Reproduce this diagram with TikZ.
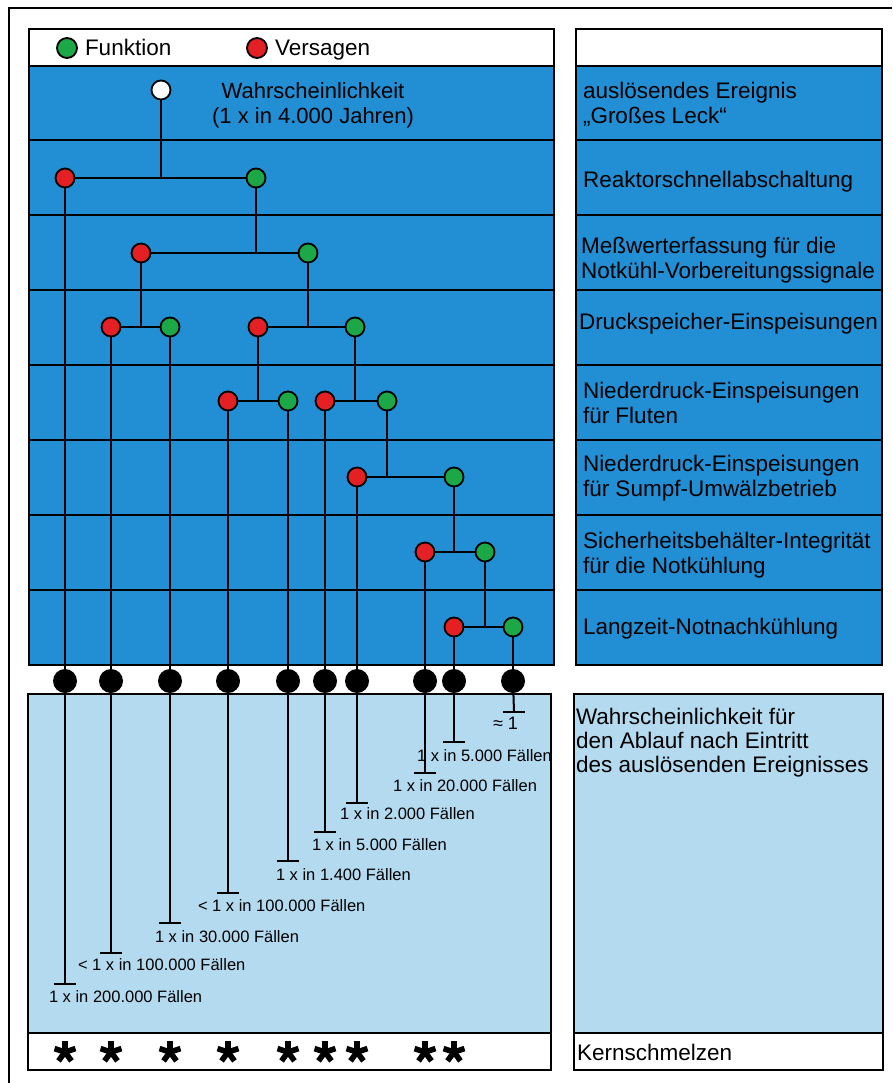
\documentclass[tikz,border=0pt]{standalone}
\usepackage{fontspec}
\setmainfont{Liberation Sans}
\definecolor{darkblue}{RGB}{34,142,212}
\definecolor{lightblue}{RGB}{180,218,240}
\definecolor{failred}{RGB}{228,32,36}
\definecolor{okgreen}{RGB}{28,168,70}
\begin{document}
\begin{tikzpicture}[x=1pt,y=-1pt,
  every node/.style={inner sep=0pt, outer sep=0pt},
  bigtxt/.style={font=\fontsize{22.5}{25}\selectfont, align=left, anchor=west},
  smalltxt/.style={font=\fontsize{16.5}{18}\selectfont, anchor=west},
  evt/.style={circle, draw=black, line width=1.8pt, minimum size=19pt},
  fok/.style={evt, fill=okgreen},
  ffail/.style={evt, fill=failred},
  fstart/.style={evt, fill=white},
  enddot/.style={circle, fill=black, minimum size=24pt},
  endtick/.style={rectangle, fill=black, minimum width=22pt, minimum height=2pt},
  conn/.style={line width=2pt},
  rowline/.style={line width=1.4pt},
  frameline/.style={line width=2pt},
  kstar/.pic={\foreach \a in {90,18,162,234,306} \draw[line width=5.6pt] (0,0) -- (\a:11pt);}]
% page and bounding box
\fill[white] (0,0) rectangle (892,1083);
\useasboundingbox (0,0) rectangle (892,1083);
\draw[frameline] (9,1083) -- (9,8) -- (892,8);
% upper left panel
\fill[darkblue] (29,66) rectangle (554,665);
\foreach \y in {140,215,290,365,440,515,590} \draw[rowline] (29,\y) -- (554,\y);
\draw[frameline] (29,29) rectangle (554,665);
\draw[frameline] (29,66) -- (554,66);
% upper right panel
\fill[darkblue] (576,66) rectangle (882,665);
\foreach \y in {140,215,290,365,440,515,590} \draw[rowline] (576,\y) -- (882,\y);
\draw[frameline] (576,29) rectangle (882,665);
\draw[frameline] (576,66) -- (882,66);
% lower left box
\fill[lightblue] (28,694) rectangle (551,1033);
\draw[frameline] (28,694) rectangle (551,1070);
\draw[frameline] (28,1033) -- (551,1033);
% lower right box
\fill[lightblue] (574,694) rectangle (883,1033);
\draw[frameline] (574,694) rectangle (883,1070);
\draw[frameline] (574,1033) -- (883,1033);
% legend
\node[fok, minimum size=20pt] (legok) at (67,48) {};
\node[bigtxt, anchor=base west] (legoktxt) at (85,56) {Funktion};
\node[ffail, minimum size=20pt] (legfail) at (257,48) {};
\node[bigtxt, anchor=base west] (legfailtxt) at (275,56) {Versagen};
% root label
\node[font=\fontsize{22}{25}\selectfont, align=center] (rootlab) at (313,105) {Wahrscheinlichkeit\\(1 x in 4.000 Jahren)};
% tree nodes
\node[fstart] (n0) at (161,90) {};
\node[ffail] (n1r) at (65,178) {};
\node[fok]   (n1g) at (256,178) {};
\node[ffail] (n2r) at (141,253) {};
\node[fok]   (n2g) at (308,253) {};
\node[ffail] (n3r) at (111,327) {};
\node[fok]   (n3g) at (170,327) {};
\node[ffail] (n4r) at (258,327) {};
\node[fok]   (n4g) at (355,327) {};
\node[ffail] (n5r) at (228,401) {};
\node[fok]   (n5g) at (288,401) {};
\node[ffail] (n6r) at (325,401) {};
\node[fok]   (n6g) at (387,401) {};
\node[ffail] (n7r) at (357,477) {};
\node[fok]   (n7g) at (454,477) {};
\node[ffail] (n8r) at (425,552) {};
\node[fok]   (n8g) at (485,552) {};
\node[ffail] (n9r) at (454,627) {};
\node[fok]   (n9g) at (513,627) {};
% tree connectors
\draw[conn] (n0) -- (n0 |- n1r);
\draw[conn] (n1r) -- (n1g);
\draw[conn] (n1g) -- (n1g |- n2r);
\draw[conn] (n2r) -- (n2g);
\draw[conn] (n2r) -- (n2r |- n3r);
\draw[conn] (n3r) -- (n3g);
\draw[conn] (n2g) -- (n2g |- n4r);
\draw[conn] (n4r) -- (n4g);
\draw[conn] (n4r) -- (n4r |- n5r);
\draw[conn] (n5r) -- (n5g);
\draw[conn] (n4g) -- (n4g |- n6r);
\draw[conn] (n6r) -- (n6g);
\draw[conn] (n6g) -- (n6g |- n7r);
\draw[conn] (n7r) -- (n7g);
\draw[conn] (n7g) -- (n7g |- n8r);
\draw[conn] (n8r) -- (n8g);
\draw[conn] (n8g) -- (n8g |- n9r);
\draw[conn] (n9r) -- (n9g);
% end dots
\foreach \nm/\x in {d1/65,d2/111,d3/170,d4/228,d5/288,d6/325,d7/357,d8/425,d9/454,d10/513}
  \node[enddot] (\nm) at (\x,681) {};
% end ticks
\node[endtick] (t1) at (65,984) {};
\node[endtick] (t2) at (111,953) {};
\node[endtick] (t3) at (170,923) {};
\node[endtick] (t4) at (228,893) {};
\node[endtick] (t5) at (288,861) {};
\node[endtick] (t6) at (325,832) {};
\node[endtick] (t7) at (357,803) {};
\node[endtick] (t8) at (425,773) {};
\node[endtick] (t9) at (454,742) {};
\node[endtick] (t10) at (514,712) {};
% outcome stems
\foreach \s/\d/\t in {n1r/d1/t1,n3r/d2/t2,n3g/d3/t3,n5r/d4/t4,n5g/d5/t5,n6r/d6/t6,n7r/d7/t7,n8r/d8/t8,n9r/d9/t9,n9g/d10/t10}{
  \draw[conn] (\s) -- (\d);
  \draw[conn] (\d) -- (\t);
}
% outcome labels
\node[smalltxt] (l1) at (49,997) {1 x in 200.000 Fällen};
\node[smalltxt] (l2) at (78,965) {< 1 x in 100.000 Fällen};
\node[smalltxt] (l3) at (155,937) {1 x in 30.000 Fällen};
\node[smalltxt] (l4) at (198,906) {< 1 x in 100.000 Fällen};
\node[smalltxt] (l5) at (276,875) {1 x in 1.400 Fällen};
\node[smalltxt] (l6) at (312,845) {1 x in 5.000 Fällen};
\node[smalltxt] (l7) at (340,814) {1 x in 2.000 Fällen};
\node[smalltxt] (l8) at (393,786) {1 x in 20.000 Fällen};
\node[smalltxt] (l9) at (417,756) {1 x in 5.000 Fällen};
\node[smalltxt, font=\fontsize{18}{20}\selectfont, anchor=east] (l10) at (518,723) {≈ 1};
% core melt stars
\foreach \x in {65,111,170,228,288,325,357,425,454}
  \pic at (\x,1052) {kstar};
% right column texts
\node[bigtxt] (r1) at (583,104) {auslösendes Ereignis\\„Großes Leck“};
\node[bigtxt] (r2) at (583,182) {Reaktorschnellabschaltung};
\node[bigtxt] (r3) at (581,260) {Meßwerterfassung für die\\Notkühl-Vorbereitungssignale};
\node[bigtxt] (r4) at (579,324) {Druckspeicher-Einspeisungen};
\node[bigtxt] (r5) at (583,403) {Niederdruck-Einspeisungen\\für Fluten};
\node[bigtxt] (r6) at (583,478) {Niederdruck-Einspeisungen\\für Sumpf-Umwälzbetrieb};
\node[bigtxt] (r7) at (583,555) {Sicherheitsbehälter-Integrität\\für die Notkühlung};
\node[bigtxt] (r8) at (583,629) {Langzeit-Notnachkühlung};
\node[bigtxt, font=\fontsize{22.5}{24}\selectfont] (lr) at (576,743) {Wahrscheinlichkeit für\\den Ablauf nach Eintritt\\des auslösenden Ereignisses};
\node[bigtxt] (kern) at (577,1052) {Kernschmelzen};
\end{tikzpicture}
\end{document}
